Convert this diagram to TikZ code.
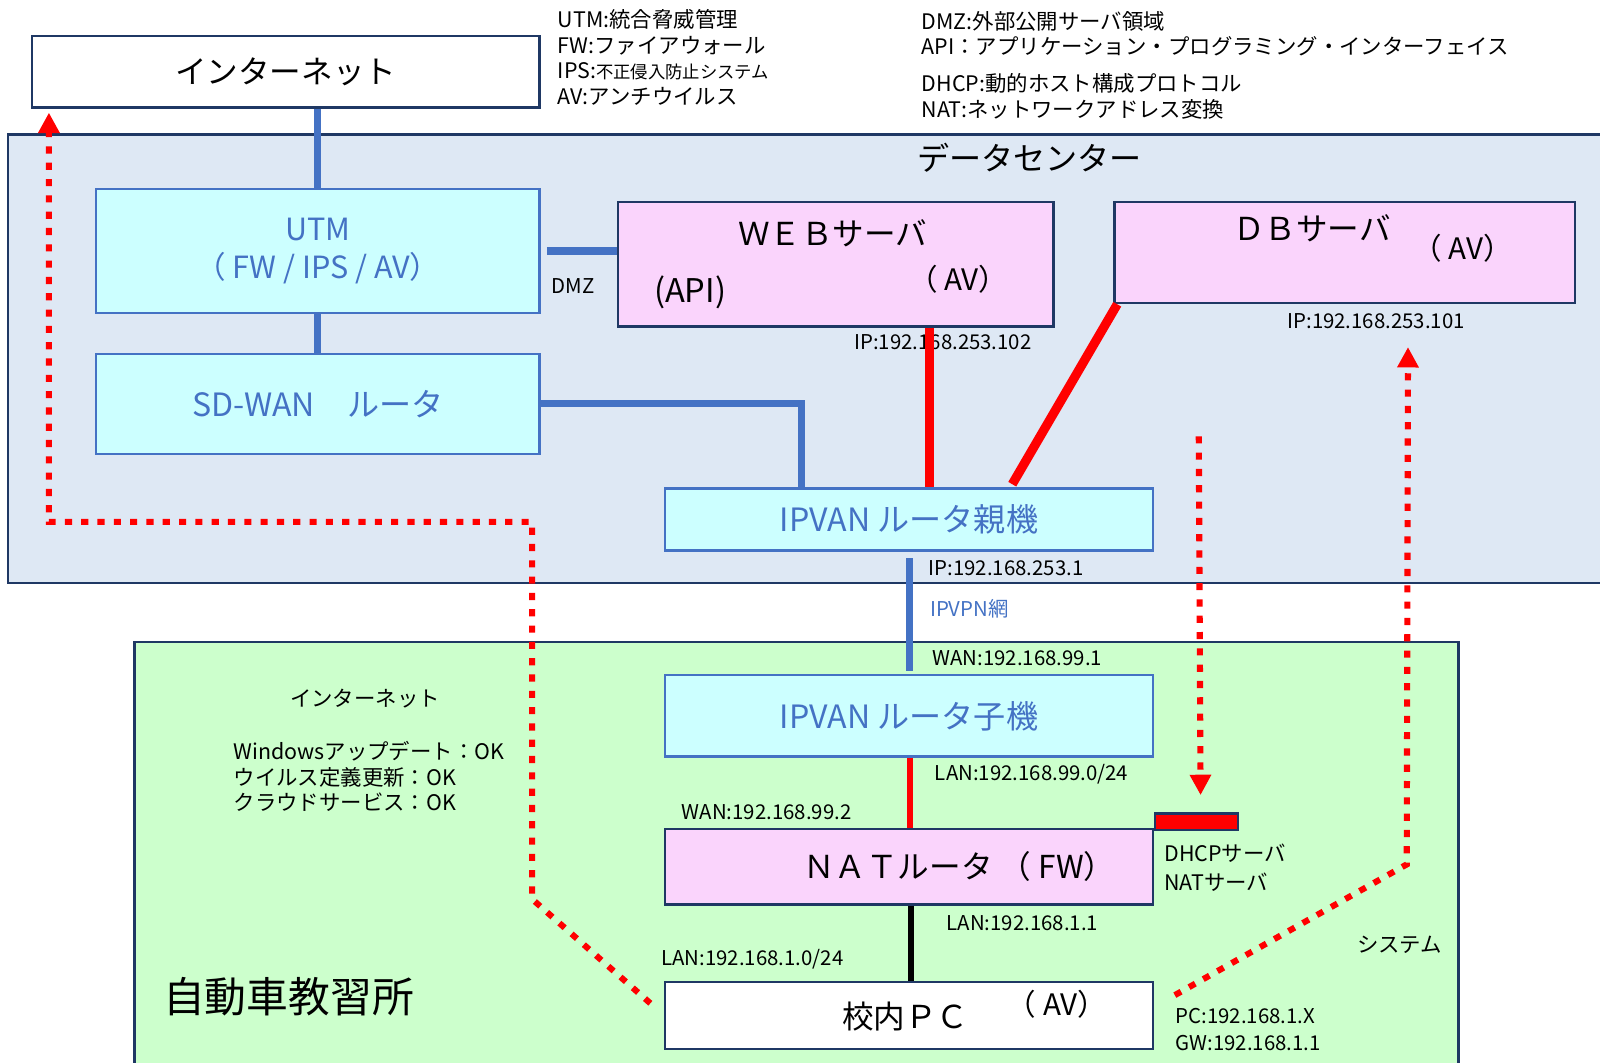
\documentclass[tikz,border=0pt]{standalone}
\usepackage{fontspec}
\setmainfont{Noto Sans CJK JP}
\usetikzlibrary{positioning, arrows.meta}

\definecolor{dcblue}{HTML}{DEE8F4}
\definecolor{boxcyan}{HTML}{CCFFFF}
\definecolor{linkblue}{HTML}{4472C4}
\definecolor{srvpink}{HTML}{FAD4FC}
\definecolor{sitegreen}{HTML}{CCFFCC}
\definecolor{navy}{HTML}{1F3864}

\begin{document}
\begin{tikzpicture}[x=1pt, y=-1pt,
        bluebox/.style = {draw=linkblue, line width=2.5pt, fill=boxcyan, text=linkblue, font=\fontsize{31.5}{38}\selectfont, align=center, inner sep=0pt, anchor=north west},
        pinkbox/.style = {draw=navy, line width=2.5pt, fill=srvpink, inner sep=0pt, anchor=north west},
        plainbox/.style = {draw=navy, line width=2.5pt, fill=white, inner sep=0pt, anchor=north west},
        big/.style = {font=\fontsize{31}{36}\selectfont, inner sep=0pt},
        small/.style = {font=\fontsize{20}{25}\selectfont, inner sep=0pt, align=left},
        jsmall/.style = {font=\fontsize{21}{25}\selectfont, inner sep=0pt, align=left},
        bluelink/.style = {linkblue, line width=7pt},
        redlink/.style = {red, line width=#1},
        flow/.style = {red, line width=6pt, dash pattern=on 7pt off 9pt, -{Triangle[width=20pt,length=20pt]}},
        ]
        % areas
        \draw[navy, line width=2.5pt, fill=dcblue] (8,132) rectangle (1700,572);
        \draw[navy, line width=2.5pt, fill=sitegreen] (132,630) rectangle (1431,1100);
        \node[big, font=\fontsize{31.5}{36}\selectfont] (dclabel) at (1010,155) {データセンター};
        \node[font=\fontsize{41}{48}\selectfont, inner sep=0pt] (sitelabel) at (283,978) {自動車教習所};

        % legend
        \node[jsmall, anchor=west] (legendl) at (547,56.5) {UTM:統合脅威管理\\FW:ファイアウォール\\IPS:{\fontsize{17}{25}\selectfont 不正侵入防止システム}\\AV:アンチウイルス};
        \node[jsmall, anchor=west] (legendr1) at (904,33) {DMZ:外部公開サーバ領域\\API：アプリケーション・プログラミング・インターフェイス};
        \node[jsmall, anchor=west] (legendr2) at (904,94.5) {DHCP:動的ホスト構成プロトコル\\NAT:ネットワークアドレス変換};

        % boxes
        \node[plainbox, minimum width=498pt, minimum height=70pt, big] (inet) at (30,34) {インターネット};
        \node[bluebox, minimum width=435pt, minimum height=122pt, font=\fontsize{30}{38}\selectfont] (utm) at (93,184) {UTM\\（ FW / IPS / AV）};
        \node[bluebox, minimum width=435pt, minimum height=98pt] (sdwan) at (93,346) {SD-WAN　ルータ};
        \node[pinkbox, minimum width=427pt, minimum height=122pt] (web) at (605,197) {};
        \node[big] (webname) at (817,229) {ＷＥＢサーバ};
        \node[big, font=\fontsize{32}{36}\selectfont] (webapi) at (677,287) {(API)};
        \node[big, font=\fontsize{29}{34}\selectfont] (webav) at (940,274) {（ AV）};
        \node[pinkbox, minimum width=452pt, minimum height=99pt] (db) at (1092,197) {};
        \node[big] (dbname) at (1287,224) {ＤＢサーバ};
        \node[big, font=\fontsize{29}{34}\selectfont] (dbav) at (1435,244) {（ AV）};
        \node[bluebox, minimum width=479pt, minimum height=61pt] (ipvanp) at (651,478) {IPVAN ルータ親機};
        \node[bluebox, minimum width=479pt, minimum height=80pt] (ipvanc) at (651,661) {IPVAN ルータ子機};
        \node[pinkbox, minimum width=479pt, minimum height=74pt] (nat) at (651,812) {};
        \node[big] (natname) at (941,850) {ＮＡＴルータ （ FW）};
        \node[draw=navy, line width=2.5pt, fill=red, anchor=north west, minimum width=81pt, minimum height=16pt, inner sep=0pt] (dhcp) at (1132,797) {};
        \node[plainbox, minimum width=479pt, minimum height=66pt] (pc) at (651,962) {};
        \node[big] (pcname) at (888,997) {校内ＰＣ};
        \node[big, font=\fontsize{29}{34}\selectfont] (pcav) at (1037,985) {（ AV）};

        % labels
        \node[small] (dmz) at (562,281) {DMZ};
        \node[small] (webip) at (925,336) {IP:192.168.253.102};
        \node[small] (dbip) at (1350,315) {IP:192.168.253.101};
        \node[small] (pip) at (987,557) {IP:192.168.253.1};
        \node[small, text=linkblue] (vpn) at (951,597) {IPVPN網};
        \node[small] (cwan) at (998,646) {WAN:192.168.99.1};
        \node[small] (clan) at (1012,760) {LAN:192.168.99.0/24};
        \node[small] (natwan) at (752,797) {WAN:192.168.99.2};
        \node[jsmall, anchor=west, font=\fontsize{21}{28}\selectfont] (srvs) at (1142,851) {DHCPサーバ\\NATサーバ};
        \node[small] (natlan) at (1003,906) {LAN:192.168.1.1};
        \node[small] (pclan) at (738,941) {LAN:192.168.1.0/24};
        \node[small, anchor=west, font=\fontsize{20}{26}\selectfont] (pcip) at (1153,1010) {PC:192.168.1.X\\GW:192.168.1.1};
        \node[jsmall] (sys) at (1373,927) {システム};
        \node[jsmall] (netlabel) at (358,685) {インターネット};
        \node[jsmall, anchor=west] (checks) at (229,762) {Windowsアップデート：OK\\ウイルス定義更新：OK\\クラウドサービス：OK};

        % links
        \draw[bluelink] (utm.north |- inet.south) -- (utm.north);
        \draw[bluelink] (utm) -- (sdwan);
        \draw[bluelink] ([xshift=6pt]utm.east) -- (utm.east -| web.west);
        \draw[bluelink] (sdwan.east) -| ([xshift=135pt]ipvanp.north west);
        \draw[redlink=9pt] ([xshift=307pt]web.south west) -- ([xshift=261pt]ipvanp.north west);
        \draw[redlink=9pt] ([xshift=4pt]db.south west) -- ([xshift=342pt,yshift=3pt]ipvanp.north west);
        \draw[bluelink] ([xshift=241pt,yshift=-6pt]ipvanp.south west) -- ([xshift=241pt,yshift=3pt]ipvanc.north west);
        \draw[redlink=6pt] ([xshift=242pt]ipvanc.south west) -- ([xshift=242pt]nat.north west);
        \draw[black, line width=6pt] ([xshift=243pt]nat.south west) -- ([xshift=243pt]pc.north west);

        % traffic
        \coordinate (dnstart) at (1176,428);
        \draw[flow] ([xshift=-13pt,yshift=12pt]pc.west) -- (522,882) -- (522,512) -- (48,512) -- ([xshift=18pt,yshift=-4pt]inet.south west);
        \draw[flow] (dnstart) -- ([xshift=4pt,yshift=17pt]dhcp.north);
        \draw[flow] ([xshift=20pt,yshift=20pt]pc.east) -- (1380,848) -- ([xshift=62pt,yshift=-42pt]db.south);

        \pgfresetboundingbox
        \useasboundingbox (0,0) rectangle (1569.6,1042.8);
\end{tikzpicture}
\end{document}
